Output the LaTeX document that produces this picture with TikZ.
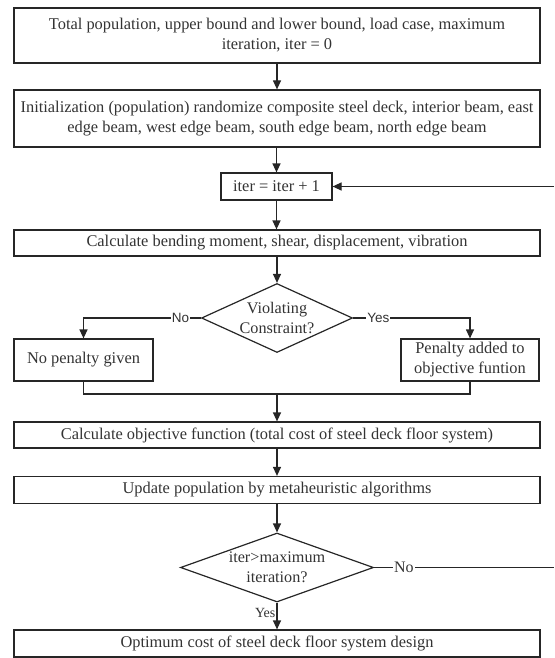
\documentclass[tikz,border=0pt]{standalone}
\usepackage{fontspec}
\setmainfont{Liberation Serif}
\newfontfamily\lblsans{Liberation Sans}
\usetikzlibrary{arrows.meta,shapes.geometric}
\definecolor{ln}{HTML}{262626}
\definecolor{tx}{HTML}{333333}
\tikzset{
  box/.style={draw=ln, line width=1.2pt, rectangle, inner sep=0pt, align=center,
    text=tx, font=\rmfamily\fontsize{16.4}{20}\selectfont},
  dia/.style={draw=ln, line width=1.2pt, diamond, inner sep=0pt},
  diatext/.style={align=center, text=tx, font=\rmfamily\fontsize{16.2}{20}\selectfont},
  arr/.style={draw=ln, line width=1.2pt, -{Triangle[width=8pt,length=9pt]}},
  conn/.style={draw=ln, line width=1.2pt},
  lblA/.style={fill=white, inner sep=1pt, text=tx, font=\lblsans\fontsize{13.5}{15}\selectfont},
  lblB/.style={fill=white, inner sep=1pt, text=tx, font=\rmfamily\fontsize{16}{18}\selectfont},
  lblC/.style={inner sep=1pt, text=tx, font=\rmfamily\fontsize{14}{16}\selectfont},
}
\begin{document}
\begin{tikzpicture}[x=1pt,y=-1pt]
\useasboundingbox (0,0) rectangle (554,658);
\node[box, minimum width=526pt, minimum height=55pt] (b1) at (277,35.5)
  {Total population, upper bound and lower bound, load case, maximum\\iteration, iter = 0};
\node[box, minimum width=526pt, minimum height=57pt] (b2) at (277,118.5)
  {Initialization (population) randomize composite steel deck, interior beam, east\\edge beam, west edge beam, south edge beam, north edge beam};
\node[box, minimum width=111pt, minimum height=27pt] (b3) at (276.5,186.5) {iter = iter + 1};
\node[box, minimum width=526pt, minimum height=26pt] (b4) at (277,243)
  {Calculate bending moment, shear, displacement, vibration};
\node[dia, minimum width=151pt, minimum height=69pt,
  label={[diatext]center:Violating\\Constraint?}] (d1) at (277,318) {};
\node[box, minimum width=139pt, minimum height=42pt] (n1) at (83.5,360) {No penalty given};
\node[box, minimum width=138pt, minimum height=42pt] (p1) at (470,360) {Penalty added to\\objective funtion};
\coordinate (j) at (277,394);
\node[box, minimum width=526pt, minimum height=26pt] (b5) at (277,435)
  {Calculate objective function (total cost of steel deck floor system)};
\node[box, minimum width=526pt, minimum height=27pt] (b6) at (277,490)
  {Update population by metaheuristic algorithms};
\node[dia, minimum width=193pt, minimum height=69pt,
  label={[diatext]center:iter>maximum\\iteration?}] (d2) at (277,567.5) {};
\node[box, minimum width=526pt, minimum height=27pt] (b7) at (277,643.5)
  {Optimum cost of steel deck floor system design};
\coordinate (fb) at (554,186.5);
\coordinate (nx) at (554,567.5);

\draw[arr] (b1) -- (b2);
\draw[arr] (b2.south -| b3) -- (b3);
\draw[arr] (b3) -- (b4.north -| b3);
\draw[arr] (b4.south -| d1) -- (d1);
\draw[arr] (d1.west) -| node[lblA, pos=0.087] {No} (n1.north);
\draw[arr] (d1.east) -| node[lblA, pos=0.108] {Yes} (p1.north);
\draw[conn] (n1.south) |- (j) -| (p1.south);
\draw[arr] (j) -- (b5);
\draw[arr] (b5) -- (b6);
\draw[arr] (b6) -- (d2);
\draw[arr] (d2) -- node[lblC, left, pos=0.39] {Yes} (b7);
\draw[conn] (d2.east) -- node[lblB, pos=0.166] {No} (nx);
\draw[arr] (fb) -- (b3.east);
\end{tikzpicture}
\end{document}
